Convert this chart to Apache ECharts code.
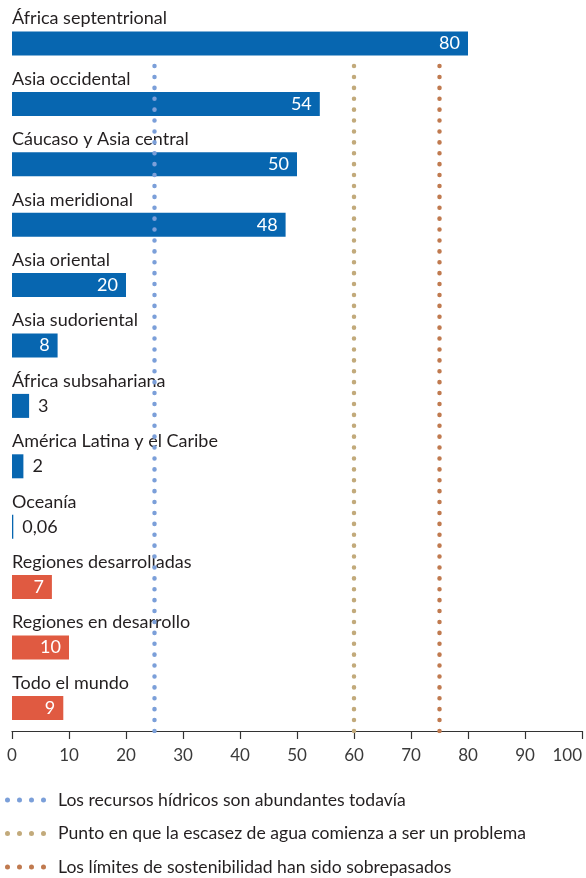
<!DOCTYPE html>
<html><head><meta charset="utf-8">
<script src="https://cdn.jsdelivr.net/npm/echarts@6/dist/echarts.min.js"></script>
<style>html,body{margin:0;padding:0;background:#fff}#c{width:586px;height:878px}</style>
</head><body><div id="c"></div>
<script>
const categories = ['África septentrional','Asia occidental','Cáucaso y Asia central','Asia meridional','Asia oriental','Asia sudoriental','África subsahariana','América Latina y el Caribe','Oceanía','Regiones desarrolladas','Regiones en desarrollo','Todo el mundo'];
const values = [80, 54, 50, 48, 20, 8, 3, 2, 0.06, 7, 10, 9];
const isAggregate = [false,false,false,false,false,false,false,false,false,true,true,true];
const thresholdValues = [25, 60, 75];
const thresholdNames = ['Los recursos hídricos son abundantes todavía','Punto en que la escasez de agua comienza a ser un problema','Los límites de sostenibilidad han sido sobrepasados'];
const axisMin = 0, axisMax = 100, axisStep = 10;

const FONT = 'Lato';
const BLUE = '#0766b0', RED = '#e05a41', TXT = '#231f20';
const lineColors = ['#7b9fd9', '#c2aa7b', '#c07a4f'];
const dotsIcon = 'path://M0,2.5a2.5,2.5 0 1,0 5,0a2.5,2.5 0 1,0 -5,0Z M12,2.5a2.5,2.5 0 1,0 5,0a2.5,2.5 0 1,0 -5,0Z M24,2.5a2.5,2.5 0 1,0 5,0a2.5,2.5 0 1,0 -5,0Z M36,2.5a2.5,2.5 0 1,0 5,0a2.5,2.5 0 1,0 -5,0Z';

const fmt = v => String(v).replace('.', ',');
const barData = values.map((v, i) => ({
  value: v,
  itemStyle: { color: isAggregate[i] ? RED : BLUE },
  label: v >= 5
    ? { position: 'insideRight', distance: 8, color: '#fff' }
    : { position: 'right', distance: 9, color: TXT }
}));

const lineSeries = thresholdValues.map((t, i) => ({
  type: 'line', name: thresholdNames[i], xAxisIndex: 1, yAxisIndex: 1,
  data: [[t, 0], [t, 1]], showSymbol: false, symbol: 'none', silent: true, z: 5,
  color: lineColors[i], itemStyle: { color: lineColors[i] },
  lineStyle: { color: lineColors[i], width: 4.5, type: [0.1, 10.8], cap: 'round' }
}));

const chart = echarts.init(document.getElementById('c'), null, { renderer: 'canvas' });
chart.setOption({
  animation: false,
  textStyle: { fontFamily: FONT },
  grid: [
    { left: 12, width: 570, top: 13.3, height: 724.8 },
    { left: 12, width: 570, top: 58, height: 673 }
  ],
  xAxis: [
    { gridIndex: 0, type: 'value', min: axisMin, max: axisMax, show: false },
    { gridIndex: 1, type: 'value', min: axisMin, max: axisMax, interval: axisStep,
      axisLine: { show: true, lineStyle: { color: '#333', width: 1.2 } },
      axisTick: { show: true, length: 8, lineStyle: { color: '#333', width: 1.2 } },
      axisLabel: { fontFamily: FONT, fontSize: 17, color: '#3a3a3a', margin: 16, alignMaxLabel: 'right' },
      splitLine: { show: false } }
  ],
  yAxis: [
    { gridIndex: 0, type: 'category', inverse: true, data: categories,
      axisLine: { show: false }, axisTick: { show: false }, splitLine: { show: false },
      axisLabel: { inside: true, interval: 0, margin: 0, align: 'left', verticalAlign: 'bottom',
        lineHeight: 20, padding: [0, 0, 15, 0], fontFamily: FONT, fontSize: 18, color: TXT } },
    { gridIndex: 1, type: 'value', min: 0, max: 1, show: false }
  ],
  legend: {
    orient: 'vertical', left: 5, top: 790, padding: 0, itemWidth: 41, itemHeight: 5, itemGap: 13.5,
    selectedMode: false,
    textStyle: { fontFamily: FONT, fontSize: 17.6, color: TXT, lineHeight: 20, padding: [0, 0, 0, 7] },
    data: thresholdNames.map((n, i) => ({ name: n, icon: dotsIcon, itemStyle: { color: lineColors[i], borderWidth: 0 } }))
  },
  series: [
    { type: 'bar', xAxisIndex: 0, yAxisIndex: 0, barWidth: 24, barMinHeight: 1.3, z: 2,
      data: barData,
      label: { show: true, fontFamily: FONT, fontSize: 18, formatter: p => fmt(p.value) } },
    ...lineSeries
  ]
});
</script></body></html>
